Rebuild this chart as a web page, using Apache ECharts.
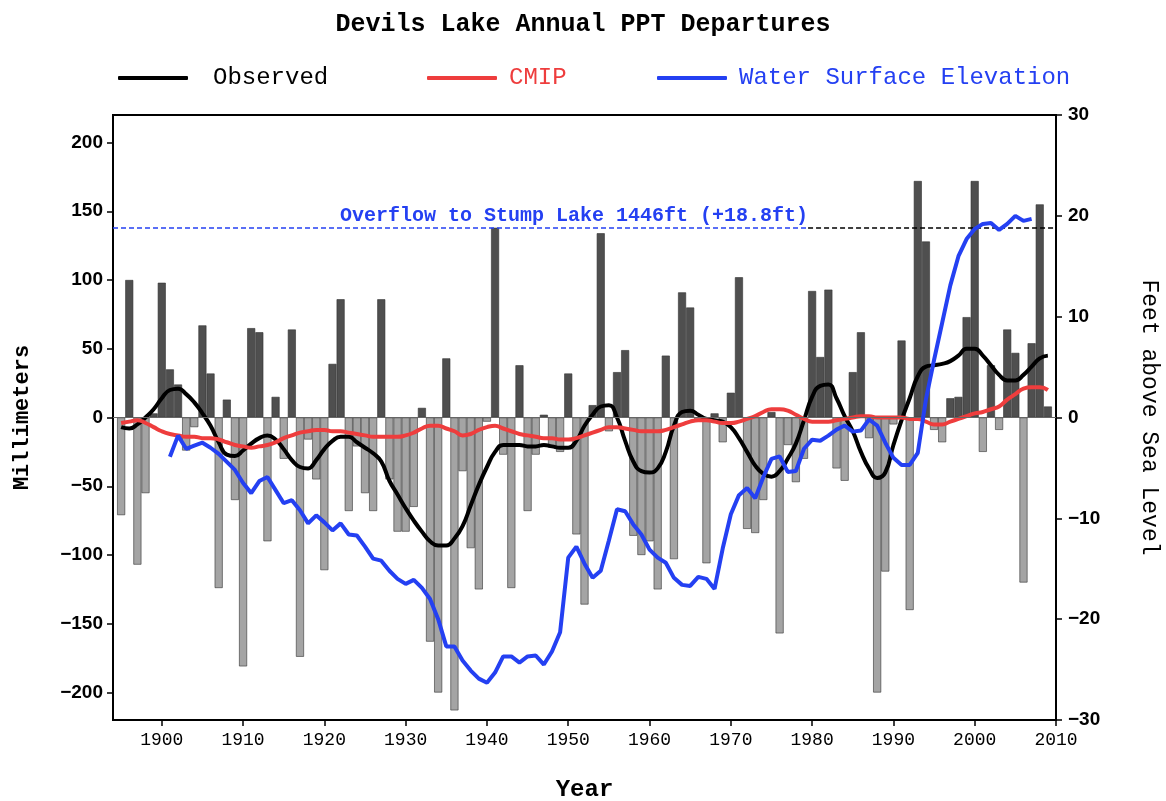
<!DOCTYPE html>
<html>
<head>
<meta charset="utf-8">
<title>Devils Lake Annual PPT Departures</title>
<script src="https://cdn.jsdelivr.net/npm/echarts@6/dist/echarts.min.js"></script>
<style>
  html, body { margin: 0; padding: 0; background: #fff; }
  #chart { width: 1166px; height: 801px; }
</style>
</head>
<body>
<div id="chart"></div>
<script>
// annual precipitation departures (mm), one per year from firstBarYear
const firstBarYear = 1895
const pptDeparture = [
  -71, 100, -107, -55, 3, 98, 35, 24, -24, -7,
  67, 32, -124, 13, -60, -181, 65, 62, -90, 15,
  -30, 64, -174, -16, -45, -111, 39, 86, -68, -21,
  -55, -68, 86, -45, -83, -83, -65, 7, -163, -200,
  43, -213, -39, -95, -125, -3, 138, -27, -124, 38,
  -68, -27, 2, -22, -25, 32, -85, -136, 9, 134,
  -10, 33, 49, -86, -100, -90, -125, 45, -103, 91,
  80, -2, -106, 3, -18, 18, 102, -81, -84, -60,
  4, -157, -20, -47, -30, 92, 44, 93, -37, -46,
  33, 62, -15, -200, -112, -5, 56, -140, 172, 128,
  -9, -18, 14, 15, 73, 172, -25, 38, -9, 64,
  47, -120, 54, 155, 8
]

// smoothed observed departures (mm), yearly from firstLineYear
const firstLineYear = 1895
const observed = [
  -7, -8, -5, 0, 6, 14, 20, 21, 17, 11,
  3, -6, -18, -27, -28, -24, -19, -15, -13, -16,
  -23, -31, -36, -37, -31, -23, -17, -14, -14, -18,
  -22, -26, -32, -46, -56, -66, -75, -83, -90, -93,
  -93, -88, -79, -64, -49, -36, -25, -20, -20, -20,
  -21, -21, -20, -21, -22, -22, -17, -6, 2, 8,
  9, 0, -17, -32, -39, -40, -37, -25, -6, 4,
  5, 2, -1, -2, -3, -7, -15, -25, -35, -41,
  -43, -39, -30, -19, -2, 15, 23, 24, 14, 1,
  -10, -25, -37, -44, -40, -20, -2, 14, 30, 37,
  38, 39, 41, 45, 50, 50, 45, 38, 31, 27,
  27, 31, 37, 43, 45
]

// CMIP departures (mm), yearly from firstLineYear
const cmip = [
  -4, -3, -2, -4, -7, -10, -12, -13, -14, -14,
  -15, -15, -16, -18, -20, -21, -22, -21, -20, -18,
  -15, -13, -11, -10, -9, -9, -10, -10, -11, -12,
  -13, -14, -14, -14, -14, -13, -11, -8, -6, -6,
  -8, -10, -13, -12, -9, -7, -6, -8, -10, -12,
  -13, -14, -15, -15, -16, -16, -15, -13, -11, -9,
  -7, -7, -8, -9, -10, -10, -10, -9, -7, -5,
  -3, -2, -2, -3, -4, -4, -3, -1, 1, 4,
  6, 6, 5, 2, -1, -3, -3, -3, -2, -1,
  0, 1, 1, 0, 0, 0, 0, -1, -1, -3,
  -5, -5, -3, -1, 1, 3, 4, 6, 8, 13,
  17, 21, 22, 22, 20
]

// lake water surface elevation (ft relative to reference), yearly from firstLakeYear
const firstLakeYear = 1901
const elevation = [
  -3.9, -1.8, -3.1, -2.8, -2.5, -3.0, -3.6, -4.4, -5.2, -6.5,
  -7.5, -6.3, -5.9, -7.2, -8.5, -8.2, -9.2, -10.5, -9.7, -10.4,
  -11.2, -10.5, -11.6, -11.7, -12.8, -14.0, -14.2, -15.2, -16.0, -16.5,
  -16.1, -16.9, -18.0, -20.0, -22.7, -22.7, -24.1, -25.1, -25.9, -26.3,
  -25.3, -23.7, -23.7, -24.3, -23.7, -23.6, -24.5, -23.2, -21.3, -13.9,
  -12.8, -14.5, -15.9, -15.2, -12.2, -9.1, -9.3, -10.6, -11.6, -13.1,
  -13.9, -14.4, -15.9, -16.6, -16.7, -15.8, -16.0, -17.0, -13.0, -9.6,
  -7.7, -7.0, -8.0, -5.9, -4.1, -3.85, -5.4, -5.3, -3.1, -2.2,
  -2.3, -1.8, -1.2, -0.8, -1.4, -1.3, -0.2, -0.8, -2.5, -4.0,
  -4.7, -4.7, -3.5, 1.8, 5.7, 9.4, 13.1, 16.0, 17.7, 18.7,
  19.2, 19.3, 18.6, 19.2, 20.0, 19.5, 19.7
]

const yearTicks = [1900, 1910, 1920, 1930, 1940, 1950, 1960, 1970, 1980, 1990, 2000, 2010]
const mmTicks = [-200, -150, -100, -50, 0, 50, 100, 150, 200]
const overflowFt = 18.8
const overflowSplitYear = 1979.5
const overflowText = 'Overflow to Stump Lake 1446ft (+18.8ft)'

const monoFont = '"Liberation Mono", "DejaVu Sans Mono", monospace'
const sansFont = '"Liberation Sans", Arial, sans-serif'
const blue = '#2440f2'
const red = '#ee3d3d'

const minus = v => String(v).replace('-', '\u2212')
const byYear = (start, arr) => arr.map((v, i) => [start + i, v])

const chart = echarts.init(document.getElementById('chart'))

// one legend per entry so each sits where the original has it
const legendItem = (left, name, color, gap) => ({
  left: left,
  top: 61,
  itemWidth: 70,
  itemHeight: 4,
  icon: 'roundRect',
  data: [{ name: name, textStyle: { color: color } }],
  textStyle: { fontFamily: monoFont, fontSize: 24, padding: [0, 0, 0, gap] }
})

chart.setOption({
  animation: false,
  backgroundColor: '#fff',
  title: {
    text: 'Devils Lake Annual PPT Departures',
    left: 'center',
    top: 7,
    textStyle: { fontFamily: monoFont, fontSize: 25, fontWeight: 'bold', color: '#000' }
  },
  legend: [
    legendItem(113, 'Observed', '#000', 20),
    legendItem(422, 'CMIP', red, 7),
    legendItem(652, 'Water Surface Elevation', blue, 7)
  ],
  grid: {
    left: 113, right: 110, top: 115, bottom: 81,
    outerBoundsMode: 'none',
    show: true, borderColor: '#000', borderWidth: 2
  },
  xAxis: {
    type: 'value',
    min: 1894,
    max: 2010,
    name: 'Year',
    nameLocation: 'middle',
    nameGap: 58,
    nameTextStyle: { fontFamily: monoFont, fontSize: 24, fontWeight: 'bold', color: '#000' },
    axisLine: { show: true, onZero: false, lineStyle: { color: '#000', width: 2 } },
    axisTick: { show: true, customValues: yearTicks, length: 6, lineStyle: { color: '#000', width: 1.5 } },
    axisLabel: {
      customValues: yearTicks,
      formatter: v => String(v),
      fontFamily: monoFont, fontSize: 18, color: '#000', margin: 11
    },
    splitLine: { show: false }
  },
  yAxis: [
    {
      type: 'value',
      min: -220,
      max: 220,
      position: 'left',
      name: 'Millimeters',
      nameLocation: 'middle',
      nameGap: 80,
      nameTextStyle: { fontFamily: monoFont, fontSize: 22, fontWeight: 'bold', color: '#000' },
      axisLine: { show: true, onZero: false, lineStyle: { color: '#000', width: 2 } },
      axisTick: { show: true, customValues: mmTicks, length: 6, lineStyle: { color: '#000', width: 1.5 } },
      axisLabel: {
        customValues: mmTicks,
        formatter: minus,
        fontFamily: sansFont, fontSize: 19, fontWeight: 'bold', color: '#000', margin: 10
      },
      splitLine: { show: false }
    },
    {
      type: 'value',
      min: -30,
      max: 30,
      interval: 10,
      position: 'right',
      name: 'Feet above Sea Level',
      nameLocation: 'middle',
      nameGap: 82,
      nameRotate: -90,
      nameTextStyle: { fontFamily: monoFont, fontSize: 23, color: '#000' },
      axisLine: { show: true, onZero: false, lineStyle: { color: '#000', width: 2 } },
      axisTick: { show: true, length: 6, lineStyle: { color: '#000', width: 1.5 } },
      axisLabel: {
        formatter: minus,
        fontFamily: sansFont, fontSize: 19, fontWeight: 'bold', color: '#000', margin: 12
      },
      splitLine: { show: false }
    }
  ],
  series: [
    {
      name: 'PPT',
      type: 'bar',
      xAxisIndex: 0,
      yAxisIndex: 0,
      barWidth: 8,
      data: byYear(firstBarYear, pptDeparture),
      itemStyle: {
        color: p => (p.value[1] >= 0 ? '#4f4f4f' : '#a4a4a4'),
        borderColor: '#333',
        borderWidth: 0.6
      },
      markLine: {
        silent: true,
        symbol: ['none', 'none'],
        label: { show: false },
        lineStyle: { color: '#666', width: 1, type: 'solid' },
        data: [{ yAxis: 0 }]
      },
      z: 1
    },
    {
      name: 'Observed',
      type: 'line',
      yAxisIndex: 0,
      data: byYear(firstLineYear, observed),
      smooth: 0.5,
      showSymbol: false,
      lineStyle: { color: '#000', width: 4 },
      itemStyle: { color: '#000' },
      z: 3
    },
    {
      name: 'CMIP',
      type: 'line',
      yAxisIndex: 0,
      data: byYear(firstLineYear, cmip),
      smooth: 0.5,
      showSymbol: false,
      lineStyle: { color: red, width: 4 },
      itemStyle: { color: red },
      z: 4
    },
    {
      name: 'Water Surface Elevation',
      type: 'line',
      yAxisIndex: 1,
      data: byYear(firstLakeYear, elevation),
      showSymbol: false,
      lineStyle: { color: blue, width: 4 },
      itemStyle: { color: blue },
      z: 5,
      markLine: {
        silent: true,
        symbol: ['none', 'none'],
        lineStyle: { color: blue, width: 1.5, type: [5, 3] },
        data: [
          [
            {
              coord: [1894, overflowFt],
              label: {
                show: true,
                position: 'insideEndTop',
                formatter: overflowText,
                distance: [0, 2],
                color: blue,
                fontFamily: monoFont,
                fontSize: 20,
                fontWeight: 'bold'
              }
            },
            { coord: [overflowSplitYear, overflowFt] }
          ],
          [
            { coord: [overflowSplitYear, overflowFt], lineStyle: { color: '#000' }, label: { show: false } },
            { coord: [2010, overflowFt] }
          ]
        ]
      }
    }
  ]
})
</script>
</body>
</html>
